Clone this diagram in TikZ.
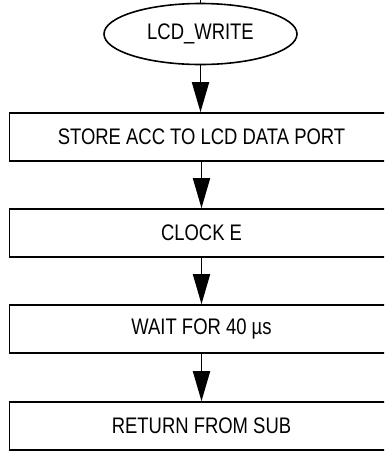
\documentclass[tikz,border=0pt]{standalone}
\usepackage{fontspec}
\setmainfont{Liberation Sans}[FakeStretch=0.82]
\usetikzlibrary{arrows.meta,shapes.geometric}
\begin{document}
\begin{tikzpicture}[x=1pt,y=-1pt,
  txt/.style={font=\fontsize{22.5}{26}\selectfont},
  stepbox/.style={txt, draw, line width=1.6pt, minimum width=384pt,
    minimum height=48pt, inner sep=0pt},
  startnode/.style={txt, draw, ellipse, line width=1.6pt, minimum width=193pt,
    minimum height=61pt, inner sep=0pt},
  flow/.style={line width=1.8pt, -{Triangle[length=30pt,width=17pt]}},
  plain/.style={line width=0.9pt}
]
\path[use as bounding box, clip] (0,0) rectangle (384,451);

\node[startnode] (s)  at (200.5,34)  {LCD\_WRITE};
\node[stepbox]   (b1) at (201.5,137) {STORE ACC TO LCD DATA PORT};
\node[stepbox]   (b2) at (201.5,233) {CLOCK E};
\node[stepbox]   (b3) at (201.5,329) {WAIT FOR 40 µs};
\node[stepbox]   (b4) at (201.5,426) {RETURN FROM SUB};

% short entry line above the start node
\coordinate (entry) at (s.north |- 0,0);
\draw[plain] (entry) -- (s.north);

\draw[flow] (s.south)  -- (s.south |- b1.north);
\draw[flow] (b1.south) -- (b2.north);
\draw[flow] (b2.south) -- (b3.north);
\draw[flow] (b3.south) -- (b4.north);
\end{tikzpicture}
\end{document}
